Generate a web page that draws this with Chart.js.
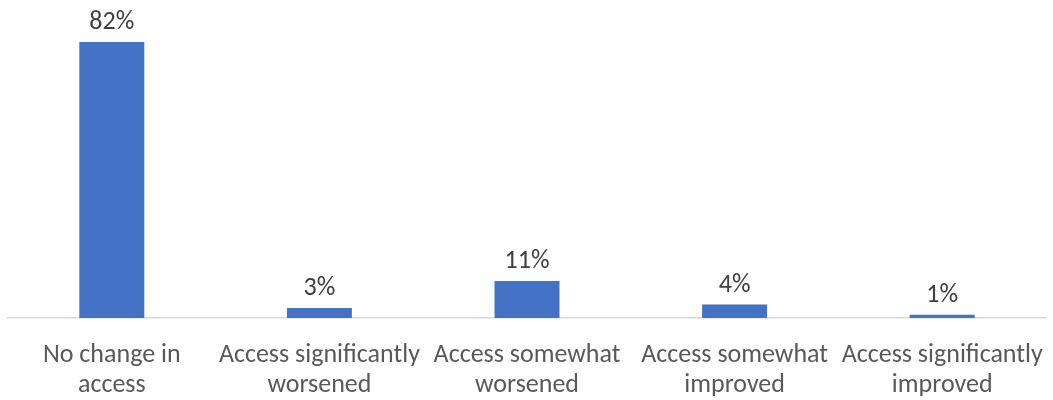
<!DOCTYPE html>
<html>
<head>
<meta charset="utf-8">
<script src="https://cdn.jsdelivr.net/npm/chart.js@4"></script>
<style>
  html, body { margin: 0; padding: 0; background: #fff; }
  #wrap { width: 1053px; height: 400px; }
</style>
</head>
<body>
<div id="wrap"><canvas id="chart" width="1053" height="400"></canvas></div>
<script>
// Данные диаграммы
const categories = [
    ['No change in', 'access'],
    ['Access significantly', 'worsened'],
    ['Access somewhat', 'worsened'],
    ['Access somewhat', 'improved'],
    ['Access significantly', 'improved']
];
const shares = [82, 3, 11, 4, 1];

const FONT = "Carlito, Calibri, 'Liberation Sans', sans-serif";

// Подписи значений над столбцами
const valueLabels = {
    id: 'valueLabels',
    afterDatasetsDraw(chart) {
        const ctx = chart.ctx;
        const meta = chart.getDatasetMeta(0);
        ctx.save();
        ctx.font = '26px ' + FONT;
        ctx.fillStyle = '#404040';
        ctx.textAlign = 'center';
        ctx.textBaseline = 'middle';
        meta.data.forEach((bar, i) => {
            ctx.fillText(shares[i] + '%', bar.x, bar.y - 19);
        });
        ctx.restore();
    }
};

new Chart(document.getElementById('chart'), {
    type: 'bar',
    data: {
        labels: categories,
        datasets: [{
            data: shares,
            backgroundColor: '#4472C4',
            categoryPercentage: 1,
            barPercentage: 0.313
        }]
    },
    options: {
        responsive: false,
        animation: false,
        layout: { padding: { top: 15, left: 8, right: 7, bottom: 0 } },
        plugins: {
            legend: { display: false },
            tooltip: { enabled: false }
        },
        scales: {
            x: {
                grid: { display: false, drawTicks: false },
                border: { display: true, color: '#d9d9d9', width: 1.5 },
                ticks: {
                    color: '#595959',
                    padding: 22,
                    maxRotation: 0,
                    autoSkip: false,
                    font: { family: FONT, size: 26, lineHeight: 30 / 26 }
                },
                // фиксированная высота подписей оси, без отступов по краям
                afterFit(scale) {
                    scale.height = 82;
                    scale.paddingLeft = 0;
                    scale.paddingRight = 0;
                }
            },
            y: {
                display: false,
                min: 0,
                max: 90
            }
        }
    },
    plugins: [valueLabels]
});
</script>
</body>
</html>
